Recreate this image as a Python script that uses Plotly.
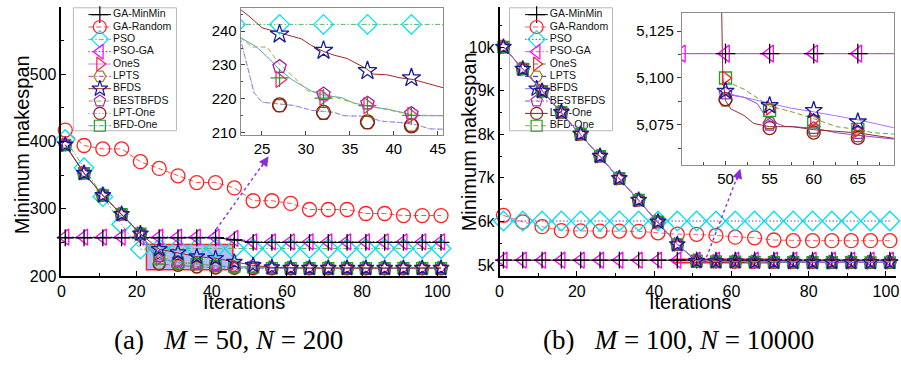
import plotly.graph_objects as go

W, H = 901, 371

series_names = ["GA-MinMin", "GA-Random", "PSO", "PSO-GA", "OneS",
                "LPTS", "BFDS", "BESTBFDS", "LPT-One", "BFD-One"]

iterations = [1, 6, 11, 16, 21, 26, 31, 36, 41, 46, 51,
              56, 61, 66, 71, 76, 81, 86, 91, 96, 101]

# ---- panel (a): M = 50, N = 200 ----
a_values = {
    "GA-MinMin": [257, 257, 257, 257, 257, 257, 257, 257, 257, 254, 250,
                  250, 250, 250, 250, 250, 250, 250, 250, 250, 250],
    "GA-Random": [417, 394, 389, 389, 370, 360, 349, 339, 339, 331, 312,
                  312, 308, 299, 299, 299, 293, 293, 290, 290, 290],
    "PSO": [403, 361, 318, 277, 240, 241, 241, 241, 241, 241, 241,
            241, 241, 241, 241, 241, 241, 241, 241, 241, 241],
    "PSO-GA": [258, 258, 258, 258, 258, 258, 258, 258, 258, 256, 251,
               251, 251, 251, 251, 251, 251, 251, 251, 251, 251],
    "OneS": [395, 353, 320, 292, 263, 226, 220.5, 218, 215, 214, 213,
             212.5, 212, 212, 212, 212, 212, 212, 212, 212, 212],
    "LPTS": [395, 353, 320, 292, 263, 218, 216, 213, 212, 212, 211.5,
             211.5, 211.5, 211.5, 211.5, 211.5, 211.5, 211.5, 211.5, 211.5, 211.5],
    "BFDS": [395, 353, 320, 292, 263, 240, 235, 229, 226.5, 221, 216,
             213, 212, 212, 212, 212, 212, 212, 212, 212, 212],
    "BESTBFDS": [395, 353, 320, 292, 263, 229, 221, 218.5, 215.5, 214, 213,
                 212, 212, 212, 212, 212, 212, 212, 212, 212, 212],
    "LPT-One": [395, 353, 320, 292, 263, 218, 216, 213.5, 212, 211.5, 211,
                211, 211, 211, 211, 211, 211, 211, 211, 211, 211],
    "BFD-One": [395, 353, 320, 292, 263, 226, 220, 218, 215, 214, 213,
                212, 212, 212, 212, 212, 212, 212, 212, 212, 212],
}

# zoomed view of panel (a), iterations 23-45
ia_marker_x = [27, 32, 37, 42]
ia_pso_x = [22, 27, 32, 37, 42, 47]
ia_pso = [242, 242, 242, 242, 242, 242]
ia_bfds_x = [22.5, 23.5, 25, 27, 29.5, 30.6, 32, 33.2, 34.7, 36.8, 37.7,
             39.2, 40.7, 42.2, 44.1, 45.7]
ia_bfds_y = [246.5, 244.5, 241, 239.6, 237.7, 235.8, 234, 232.9, 231.9, 229,
             227.3, 227.1, 226.2, 225.7, 224.4, 223.2]
ia_bfds_marks = [239.1, 234.3, 228.3, 226.2]
ia_bfdone_x = [22.5, 24.4, 25.8, 27, 28.4, 29.5, 30.6, 32.1, 34, 35.5, 37.7,
               39.2, 40.9, 42.2, 45.7]
ia_bfdone_y = [238.2, 235.3, 231.9, 228.6, 225.7, 224, 222.3, 220.9, 220.4,
               218.7, 217.5, 217, 216, 215, 215]
ia_bfdone_marks = [226.2, 220.2, 218, 215.1]
ia_ones_marks = [225.7, 220.4, 218, 215.1]
ia_best_x = [22.5, 23.9, 25.6, 26.9, 28.7, 30.2, 31.7, 33.5, 35.5, 37.7, 40,
             42.2, 45.7]
ia_best_y = [238.2, 235.3, 235.3, 230.5, 226.2, 222.3, 221.8, 220.3, 218.7,
             217.6, 216.3, 215.2, 215]
ia_best_marks = [229.5, 221.4, 218.7, 215.6]
ia_lpt_x = [22.5, 23.7, 24.1, 25, 26.9, 28.7, 30.6, 33.2, 34.3, 37, 38.5,
            40.7, 42.6, 44.1, 45.7]
ia_lpt_y = [238.2, 226, 221.8, 219, 218.5, 218, 216.6, 216, 215, 214.8,
            213.4, 213, 212.3, 211.1, 211]
ia_lptone_marks = [218.2, 216, 213.2, 212]
ia_lpts_marks = [218, 215.7, 213, 212.2]

# ---- panel (b): M = 100, N = 10000 ----
b_values = {
    "GA-MinMin": [5113] * 21,
    "GA-Random": [6140, 5990, 5880, 5790, 5783, 5780, 5780, 5775, 5740, 5710,
                  5705, 5680, 5640, 5625, 5575, 5560, 5560, 5560, 5560, 5560, 5560],
    "PSO": [6010] * 21,
    "PSO-GA": [5113] * 21,
    "OneS": [10000, 9497, 8990, 8505, 8006, 7499, 6991, 6492, 5993, 5475,
             5100, 5084, 5078, 5072, 5069, 5067, 5066, 5065, 5065, 5064, 5064],
    "LPTS": [10000, 9497, 8990, 8505, 8006, 7499, 6991, 6492, 5993, 5475,
             5088, 5076, 5072, 5069, 5067, 5066, 5065, 5064, 5064, 5063, 5063],
    "BFDS": [10000, 9497, 8990, 8505, 8006, 7499, 6991, 6492, 5993, 5475,
             5093, 5085, 5082, 5076, 5072, 5070, 5068, 5067, 5066, 5065, 5065],
    "BESTBFDS": [10000, 9497, 8990, 8505, 8006, 7499, 6991, 6492, 5993, 5475,
                 5092, 5075, 5073, 5071, 5068, 5066, 5065, 5064, 5064, 5063, 5063],
    "LPT-One": [10000, 9497, 8990, 8505, 8006, 7499, 6991, 6492, 5993, 5475,
                5089, 5073, 5071, 5068, 5067, 5066, 5065, 5064, 5063, 5063, 5062],
    "BFD-One": [10000, 9497, 8990, 8505, 8006, 7499, 6991, 6492, 5993, 5475,
                5100, 5083, 5077, 5073, 5070, 5068, 5066, 5065, 5065, 5064, 5064],
}

# zoomed view of panel (b), iterations 45-69
ib_marker_x = [50, 55, 60, 65]
ib_flat_x = [45, 50, 55, 60, 65, 70]
ib_psoga = [5113, 5113, 5113, 5113, 5113, 5113]
ib_gaminmin = [5113, 5113, 5113, 5113]
ib_bfdone_marks = [5100, 5082.7, 5076.6, 5072.6]
ib_ones_marks = [5100, 5084, 5077.6, 5072]
ib_bfds_marks = [5093, 5085.3, 5082.7, 5076.6]
ib_best_marks = [5091.7, 5075, 5073.2, 5070.6]
ib_lptone_marks = [5088.7, 5073.2, 5070.8, 5068]
ib_lpts_marks = [5088, 5076, 5072, 5069]
ib_bfds_x = [50, 52.1, 55, 57.3, 60, 62.9, 65, 69.2]
ib_bfds_y = [5092, 5089.7, 5086.5, 5084, 5081.9, 5079.3, 5077.7, 5073.3]
ib_ones_x = [50, 52.1, 55, 57.6, 60, 62.6, 65, 66.7, 69.2]
ib_ones_y = [5098.4, 5094, 5085, 5081.8, 5078.3, 5074, 5072.5, 5070.8, 5070]
ib_best_x = [50, 52.1, 53.6, 54.8, 56.7, 60, 62.6, 66, 69.2]
ib_best_y = [5091.3, 5089.7, 5086.3, 5077.6, 5074.2, 5073.3, 5070.7, 5069, 5067.3]
ib_lpt_x = [49.55, 49.7, 50, 50.6, 52.1, 53.2, 55, 57.6, 60, 62.2, 65, 69.2]
ib_lpt_y = [5140, 5100, 5087.9, 5083.5, 5080, 5075.7, 5074, 5074, 5072.4,
            5071.5, 5070.7, 5067.7]

# ---- styles ----
DASH = "5px,3px"
DOT = "1.5px,2px"
DASHDOT = "5px,2px,1.5px,2px"


def st(lc, dash, sym, mc, size):
    return dict(lc=lc, dash=dash, sym=sym, mc=mc, size=size)


style_a = {
    "GA-MinMin": st("#000000", "solid", "cross-thin-open", "#000000", 12),
    "GA-Random": st("#ff4a4a", DASH, "circle-open", "#ff2020", 14),
    "PSO": st("#5cb85c", DASHDOT, "diamond-open", "#00e0f0", 15),
    "PSO-GA": st("#3030ff", DOT, "triangle-left-open", "#ff00ff", 14),
    "OneS": st("#c080ff", "solid", "triangle-right-open", "#ff2050", 12),
    "LPTS": st("#b040c0", DASHDOT, "hexagon2-open", "#9a8a10", 12),
    "BFDS": st("#a02828", "solid", "star-open", "#1a1a9a", 12),
    "BESTBFDS": st("#a8a830", DASH, "pentagon-open", "#a030c0", 12),
    "LPT-One": st("#60a8e0", DOT, "circle-open", "#8b1a1a", 12),
    "BFD-One": st("#20b0b0", DASHDOT, "square-open", "#20a020", 11),
}
style_b = {
    "GA-MinMin": st("#000000", "solid", "cross-thin-open", "#000000", 12),
    "GA-Random": st("#ff6060", DASH, "circle-open", "#ff2020", 14),
    "PSO": st("#4040ff", DOT, "diamond-open", "#00e0f0", 15),
    "PSO-GA": st("#ff40ff", DASHDOT, "triangle-left-open", "#ff00ff", 14),
    "OneS": st("#40a040", DASH, "triangle-right-open", "#ff2020", 12),
    "LPTS": st("#2020a0", DASH, "hexagon2-open", "#9a8a10", 12),
    "BFDS": st("#a060ff", "solid", "star-open", "#1a1a9a", 12),
    "BESTBFDS": st("#a040c0", DASHDOT, "pentagon-open", "#a030c0", 12),
    "LPT-One": st("#8b2020", "solid", "circle-open", "#8b1a1a", 12),
    "BFD-One": st("#a0a040", DASH, "square-open", "#20a020", 11),
}

draw_order = ["GA-Random", "PSO", "PSO-GA", "GA-MinMin", "LPTS", "LPT-One",
              "OneS", "BESTBFDS", "BFD-One", "BFDS"]

FONT = "Liberation Sans"


def xd(p0, p1):
    return [p0 / W, p1 / W]


def yd(top, bottom):
    return [1 - bottom / H, 1 - top / H]


fig = go.Figure()


def line_trace(x, y, color, dash, xa, ya, width=1.0):
    fig.add_trace(go.Scatter(x=x, y=y, mode="lines",
                             line=dict(color=color, width=width, dash=dash),
                             xaxis=xa, yaxis=ya, showlegend=False,
                             hoverinfo="skip"))


def marker_trace(x, y, sym, color, size, xa, ya, clip=True):
    fig.add_trace(go.Scatter(x=x, y=y, mode="markers",
                             marker=dict(symbol=sym, size=size, color=color,
                                         line=dict(width=1.3, color=color)),
                             xaxis=xa, yaxis=ya, showlegend=False,
                             cliponaxis=clip, hoverinfo="skip"))


def series_trace(x, y, s, xa, ya, clip=False):
    fig.add_trace(go.Scatter(x=x, y=y, mode="lines+markers",
                             line=dict(color=s["lc"], width=1, dash=s["dash"]),
                             marker=dict(symbol=s["sym"], size=s["size"],
                                         color=s["mc"],
                                         line=dict(width=1.3, color=s["mc"])),
                             xaxis=xa, yaxis=ya, showlegend=False,
                             cliponaxis=clip, hoverinfo="skip"))


# ---- hand-built legends (drawn first so the curves sit above them) ----
def legend_block(styles, xa, ya):
    rows = [7 + 12.65 * i for i in range(len(series_names))]
    for name, r in zip(series_names, rows):
        s = styles[name]
        fig.add_trace(go.Scatter(x=[0, 23], y=[r, r], mode="lines",
                                 line=dict(color=s["lc"], width=1, dash=s["dash"]),
                                 xaxis=xa, yaxis=ya, showlegend=False,
                                 hoverinfo="skip"))
        fig.add_trace(go.Scatter(x=[11.7], y=[r], mode="markers",
                                 marker=dict(symbol=s["sym"], size=min(s["size"], 13),
                                             color=s["mc"],
                                             line=dict(width=1.2, color=s["mc"])),
                                 xaxis=xa, yaxis=ya, showlegend=False,
                                 cliponaxis=False, hoverinfo="skip"))
    fig.add_trace(go.Scatter(x=[25] * len(series_names), y=rows, mode="text",
                             text=series_names, textposition="middle right",
                             textfont=dict(family=FONT, size=10.5, color="#111"),
                             xaxis=xa, yaxis=ya, showlegend=False,
                             cliponaxis=False, hoverinfo="skip"))


legend_block(style_a, "x", "y")
legend_block(style_b, "x2", "y2")

# ---- main panels ----
for name in draw_order:
    series_trace(iterations, a_values[name], style_a[name], "x3", "y3")
for name in draw_order:
    series_trace(iterations, b_values[name], style_b[name], "x4", "y4")

# ---- inset (a) ----
sa = style_a
line_trace(ia_pso_x, ia_pso, sa["PSO"]["lc"], DASHDOT, "x5", "y5")
line_trace(ia_lpt_x, ia_lpt_y, "#b070e0", DASH, "x5", "y5")
line_trace(ia_lpt_x, ia_lpt_y, "#70a8e0", DOT, "x5", "y5")
line_trace(ia_bfdone_x, ia_bfdone_y, "#50a8c8", "solid", "x5", "y5")
line_trace(ia_best_x, ia_best_y, sa["BESTBFDS"]["lc"], DASH, "x5", "y5")
line_trace(ia_bfds_x, ia_bfds_y, sa["BFDS"]["lc"], "solid", "x5", "y5")
marker_trace(ia_pso_x, ia_pso, "diamond-open", sa["PSO"]["mc"], 15, "x5", "y5")
marker_trace(ia_marker_x, ia_lpts_marks, "hexagon2-open", "#8a5a10", 14, "x5", "y5")
marker_trace(ia_marker_x, ia_lptone_marks, "circle-open", "#8b1a1a", 14, "x5", "y5")
marker_trace(ia_marker_x, ia_best_marks, "pentagon-open", "#a020b0", 14, "x5", "y5")
marker_trace(ia_marker_x, ia_ones_marks, "triangle-right-open", "#ff2090", 14, "x5", "y5")
marker_trace(ia_marker_x, ia_bfdone_marks, "cross-thin-open", "#20a020", 13, "x5", "y5")
marker_trace(ia_marker_x, ia_bfds_marks, "star-open", "#1a1a9a", 14, "x5", "y5")

# ---- inset (b) ----
sb = style_b
line_trace(ib_flat_x, ib_psoga, "#404040", "solid", "x6", "y6", width=0.8)
line_trace(ib_flat_x, ib_psoga, sb["PSO-GA"]["lc"], DASHDOT, "x6", "y6")
line_trace(ib_best_x, ib_best_y, "#a040c0", "solid", "x6", "y6")
line_trace(ib_lpt_x, ib_lpt_y, "#8b3030", "solid", "x6", "y6")
line_trace(ib_ones_x, ib_ones_y, "#70a030", DASH, "x6", "y6")
line_trace(ib_bfds_x, ib_bfds_y, "#b070ff", "solid", "x6", "y6")
marker_trace(ib_flat_x, ib_psoga, "triangle-left-open", "#ff00ff", 15, "x6", "y6")
marker_trace(ib_marker_x, ib_gaminmin, "cross-thin-open", "#000000", 14, "x6", "y6")
marker_trace(ib_marker_x, ib_lpts_marks, "hexagon2-open", "#8a5a10", 13, "x6", "y6")
marker_trace(ib_marker_x, ib_lptone_marks, "circle-open", "#8b1a1a", 13, "x6", "y6")
marker_trace(ib_marker_x, ib_best_marks, "pentagon-open", "#a030c0", 13, "x6", "y6")
marker_trace(ib_marker_x, ib_bfdone_marks, "square-open", "#20a020", 12, "x6", "y6")
marker_trace(ib_marker_x, ib_ones_marks, "triangle-right-open", "#ff2020", 12, "x6", "y6")
marker_trace(ib_marker_x, ib_bfds_marks, "star-open", "#1a1a9a", 13, "x6", "y6")

# ---- axes ----
hidden = dict(visible=False, fixedrange=True)
main_ax = dict(showline=True, linecolor="black", linewidth=1.6, mirror=False,
               ticks="inside", ticklen=5, tickwidth=1.3, tickcolor="black",
               showgrid=False, zeroline=False, tickfont=dict(size=16, family=FONT))
inset_ax = dict(showline=True, linecolor="#8c8c8c", linewidth=1.3, mirror=True,
                ticks="inside", ticklen=4, tickwidth=1, tickcolor="#444",
                showgrid=False, zeroline=False, tickfont=dict(size=15, family=FONT))

fig.update_layout(
    width=W, height=H, margin=dict(l=0, r=0, t=0, b=0, pad=0),
    autosize=False,
    paper_bgcolor="white", plot_bgcolor="rgba(0,0,0,0)",
    font=dict(family=FONT, color="black", size=16),
    showlegend=False,
    xaxis=dict(domain=xd(85, 189), range=[0, 104], anchor="y", **hidden),
    yaxis=dict(domain=yd(8, 134), range=[126, 0], anchor="x", **hidden),
    xaxis2=dict(domain=xd(525.7, 629.7), range=[0, 104], anchor="y2", **hidden),
    yaxis2=dict(domain=yd(8, 134), range=[126, 0], anchor="x2", **hidden),
    xaxis3=dict(domain=xd(58, 447), range=[0, 102.6], anchor="y3",
                tickvals=[0, 20, 40, 60, 80, 100],
                minor=dict(tickvals=[10, 30, 50, 70, 90], ticks="inside",
                           ticklen=3, tickcolor="black"),
                **main_ax),
    yaxis3=dict(domain=yd(7, 283), range=[200, 600], anchor="x3",
                tickvals=[200, 300, 400, 500],
                minor=dict(tickvals=[250, 350, 450, 550], ticks="inside",
                           ticklen=3, tickcolor="black"),
                **main_ax),
    xaxis4=dict(domain=xd(500, 900), range=[0, 102.6], anchor="y4",
                tickvals=[0, 20, 40, 60, 80, 100],
                minor=dict(tickvals=[10, 30, 50, 70, 90], ticks="inside",
                           ticklen=3, tickcolor="black"),
                **main_ax),
    yaxis4=dict(domain=yd(7, 283), range=[4747, 10921], anchor="x4",
                tickvals=[5000, 6000, 7000, 8000, 9000, 10000],
                ticktext=["5k", "6k", "7k", "8k", "9k", "10k"],
                minor=dict(tickvals=[5500, 6500, 7500, 8500, 9500, 10500],
                           ticks="inside", ticklen=3, tickcolor="black"),
                **main_ax),
    xaxis5=dict(domain=xd(239, 443), range=[22.6, 45.6], anchor="y5",
                tickvals=[25, 30, 35, 40, 45], **inset_ax),
    yaxis5=dict(domain=yd(8, 138), range=[209.4, 246.9], anchor="x5",
                tickvals=[210, 220, 230, 240],
                minor=dict(tickvals=[215, 225, 235, 245], ticks="inside",
                           ticklen=2, tickcolor="#444"),
                **inset_ax),
    xaxis6=dict(domain=xd(684, 897.7), range=[45.06, 69.07], anchor="y6",
                tickvals=[50, 55, 60, 65],
                minor=dict(tickvals=[47.5, 52.5, 57.5, 62.5, 67.5],
                           ticks="inside", ticklen=3, tickcolor="#444"),
                **inset_ax),
    yaxis6=dict(domain=yd(13.3, 169), range=[5053.6, 5134.7], anchor="x6",
                tickvals=[5075, 5100, 5125],
                ticktext=["5,075", "5,100", "5,125"],
                **{**inset_ax, "ticks": "outside"},
                minor=dict(tickvals=[5062.5, 5087.5, 5112.5], ticks="outside",
                           ticklen=3, tickcolor="#444")),
)

# ---- shapes: legend frames, zoom windows, arrow shafts ----
ARROW = "#8a2be2"
shapes = [
    dict(type="rect", xref="paper", yref="paper", x0=70 / W, x1=174 / W,
         y0=1 - 134 / H, y1=1 - 8 / H, line=dict(color="#b8b8b8", width=1),
         layer="below"),
    dict(type="rect", xref="paper", yref="paper", x0=510 / W, x1=614 / W,
         y0=1 - 134 / H, y1=1 - 8 / H, line=dict(color="#b8b8b8", width=1),
         layer="below"),
    dict(type="rect", xref="x3", yref="y3", x0=22.6, x1=45.6, y0=209.4, y1=246.9,
         fillcolor="rgba(110,120,235,0.5)", line=dict(color="#ff2020", width=1.5),
         layer="below"),
    dict(type="rect", xref="x4", yref="y4", x0=45.06, x1=69.07, y0=5053.6,
         y1=5134.7, fillcolor="rgba(110,120,235,0.5)",
         line=dict(color="#ff2020", width=1.5), layer="below"),
    dict(type="line", xref="x3", yref="y3", x0=39.3, y0=255, x1=55.1, y1=378,
         line=dict(color=ARROW, width=1.4, dash="dot")),
    dict(type="line", xref="x4", yref="y4", x0=53, y0=5050, x1=62.3, y1=7208,
         line=dict(color=ARROW, width=1.4, dash="dot")),
]
fig.update_layout(shapes=shapes)


def label(text, px, py, size, family=FONT, angle=0):
    return dict(text=text, x=px / W, y=1 - py / H, xref="paper", yref="paper",
                xanchor="center", yanchor="middle", textangle=angle,
                showarrow=False, font=dict(size=size, family=family, color="black"))


NB = "\u00a0"
EQ = NB + "=" + NB

annotations = [
    dict(x=55.1, y=378, xref="x3", yref="y3", ax=-8, ay=12, text="",
         showarrow=True, arrowhead=2, arrowsize=1.4, arrowwidth=1.4,
         arrowcolor=ARROW),
    dict(x=62.3, y=7208, xref="x4", yref="y4", ax=-4, ay=13, text="",
         showarrow=True, arrowhead=2, arrowsize=1.4, arrowwidth=1.4,
         arrowcolor=ARROW),
    label("Minimum makespan", 19, 148, 20, angle=-90),
    label("Minimum makespan", 470, 145, 20, angle=-90),
    label("Iterations", 242, 310, 20),
    label("Iterations", 692, 310, 20),
    label("(a)" + NB * 3 + "<i>M</i>" + EQ + "50," + NB + "<i>N</i>" + EQ + "200",
          227, 348, 27, family="Liberation Serif"),
    label("(b)" + NB * 3 + "<i>M</i>" + EQ + "100," + NB + "<i>N</i>" + EQ + "10000",
          681, 348, 27, family="Liberation Serif"),
]
fig.update_layout(annotations=annotations)

fig.write_html("out.html")
